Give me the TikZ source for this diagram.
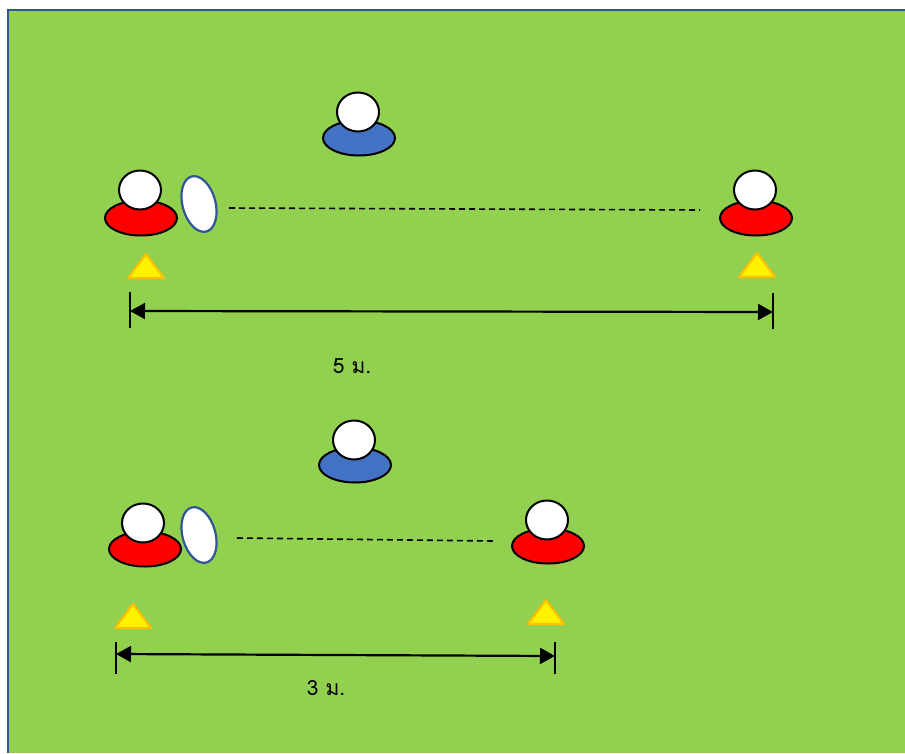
\documentclass[tikz,border=0pt]{standalone}
\usepackage{fontspec}
\newfontfamily\thaifont[Script=Thai]{Loma}
\definecolor{fieldgreen}{RGB}{146,208,80}
\definecolor{fieldedge}{RGB}{47,85,151}
\definecolor{coachblue}{RGB}{68,114,196}
\definecolor{conegold}{RGB}{255,192,0}
\usetikzlibrary{shapes.geometric,arrows.meta}

\begin{document}
\begin{tikzpicture}[x=1pt,y=-1pt,
    disc/.style={draw,ellipse,line width=2pt,minimum width=72pt,minimum height=35pt,inner sep=0pt},
    head/.style={draw,ellipse,fill=white,line width=2pt,minimum width=42pt,minimum height=39pt,inner sep=0pt},
    ball/.style={draw=fieldedge,ellipse,fill=white,line width=2.2pt,minimum width=33pt,minimum height=57pt,inner sep=0pt,rotate=15},
    cone/.pic={\draw[fill=yellow,draw=conegold,line width=2.2pt,line join=round] (-18,12) -- (0,-12) -- (18,12) -- cycle;},
    pass/.style={dashed,dash pattern=on 6pt off 4pt,line width=1.6pt},
    span/.style={{Triangle[length=15pt,width=16pt]}-{Triangle[length=15pt,width=16pt]},line width=2.2pt},
    tick/.style={line width=1.5pt},
    dist/.style={font=\thaifont\fontsize{21}{25}\selectfont}]
    \useasboundingbox (0,0) rectangle (905,753);

    % field
    \fill[fieldgreen] (8,10) rectangle (905,753);
    \draw[fieldedge,line width=2.5pt] (8,753) -- (8,10) -- (905,10);

    % 5 m drill
    \node[disc,fill=coachblue] (coachA) at (359,138) {};
    \node[head] (coachAhead) at (358,112) {};
    \node[disc,fill=red] (feedA) at (141,218) {};
    \node[head] (feedAhead) at (140,190) {};
    \node[ball] (ballA) at (199,204) {};
    \node[disc,fill=red] (recvA) at (756,218) {};
    \node[head] (recvAhead) at (755,190) {};
    \pic at (146,266) {cone};
    \pic at (757,265) {cone};
    \coordinate (passAstart) at (229,208);
    \coordinate (passAend) at (700,210);
    \draw[pass] (passAstart) -- (passAend);
    \coordinate (spanAleft) at (130,311);
    \coordinate (spanAright) at (773,312);
    \coordinate (tickAlt) at (130,292);
    \coordinate (tickAlb) at (130,328);
    \coordinate (tickArt) at (773,293);
    \coordinate (tickArb) at (773,329);
    \draw[tick] (tickAlt) -- (tickAlb);
    \draw[tick] (tickArt) -- (tickArb);
    \draw[span] (spanAleft) -- (spanAright);
    \node[dist] (distA) at (352,366) {5 ม.};

    % 3 m drill
    \node[disc,fill=coachblue] (coachB) at (355,465) {};
    \node[head] (coachBhead) at (354,440) {};
    \node[disc,fill=red] (feedB) at (145,549) {};
    \node[head] (feedBhead) at (143,523) {};
    \node[ball] (ballB) at (199,535) {};
    \node[disc,fill=red] (recvB) at (548,546) {};
    \node[head] (recvBhead) at (547,520) {};
    \pic at (133,616) {cone};
    \pic at (546,612) {cone};
    \coordinate (passBstart) at (237,538);
    \coordinate (passBend) at (494,541);
    \draw[pass] (passBstart) -- (passBend);
    \coordinate (spanBleft) at (116,654);
    \coordinate (spanBright) at (555,656);
    \coordinate (tickBlt) at (116,642);
    \coordinate (tickBlb) at (116,674);
    \coordinate (tickBrt) at (555,642);
    \coordinate (tickBrb) at (555,674);
    \draw[tick] (tickBlt) -- (tickBlb);
    \draw[tick] (tickBrt) -- (tickBrb);
    \draw[span] (spanBleft) -- (spanBright);
    \node[dist] (distB) at (326,688) {3 ม.};
\end{tikzpicture}
\end{document}
